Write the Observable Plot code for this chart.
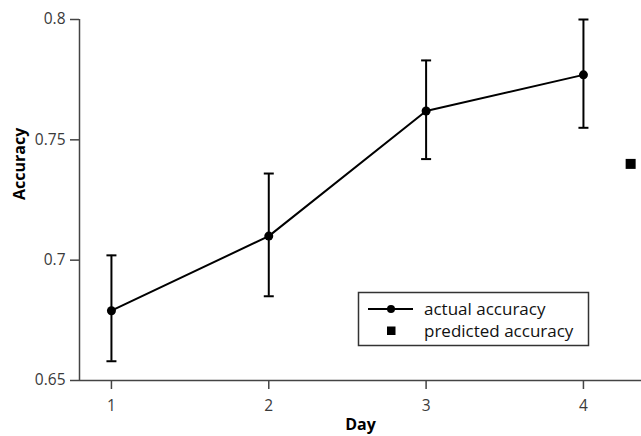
<!DOCTYPE html>
<html>
<head>
<meta charset="utf-8">
<script src="https://cdn.jsdelivr.net/npm/d3@7"></script>
<script src="https://cdn.jsdelivr.net/npm/@observablehq/plot@0.6"></script>
<style>
  html, body { margin: 0; padding: 0; background: #fff; }
  #chart { width: 641px; height: 436px; }
  #chart g[aria-label="y-axis tick label"] text,
  #chart g[aria-label="x-axis tick label"] text { font-size: 15.5px !important; }
</style>
</head>
<body>
<div id="chart"></div>
<script>
// ---- data ----
const days = [1, 2, 3, 4];
const meanAcc = [0.679, 0.710, 0.762, 0.777];
const lowerAcc = [0.658, 0.685, 0.742, 0.755];
const upperAcc = [0.702, 0.736, 0.783, 0.800];
const predDays = [4.3];
const predAcc = [0.74];
const yTicks = [0.65, 0.7, 0.75, 0.8];
const xTicks = [1, 2, 3, 4];
const legendLabels = ["actual accuracy", "predicted accuracy"];

const actual = days.map((d, i) => ({day: d, mean: meanAcc[i], lo: lowerAcc[i], hi: upperAcc[i]}));
const predicted = predDays.map((d, i) => ({day: d, acc: predAcc[i]}));

const xDomain = [0.797, 4.369];
const yDomain = [0.65, 0.8];

// horizontal cap symbol for error bars
const capSymbol = {
  draw(ctx, size) {
    const w = Math.sqrt(size / Math.PI);
    ctx.moveTo(-w, 0);
    ctx.lineTo(w, 0);
  }
};

const font = "'Open Sans', 'DejaVu Sans', sans-serif";

const svg = Plot.plot({
  width: 641,
  height: 436,
  marginLeft: 79,
  marginRight: 0,
  marginTop: 19,
  marginBottom: 56,
  style: {fontFamily: font, fontSize: "15px", color: "#3a3a3a", background: "#fff"},
  x: {domain: xDomain},
  y: {domain: yDomain},
  marks: [
    Plot.axisY({ticks: yTicks, tickSize: 9, tickPadding: 5, tickFormat: d => String(d), label: null, fontSize: 15.5, stroke: "#444", strokeWidth: 1.5}),
    Plot.axisX({ticks: xTicks, tickSize: 9, tickPadding: 10, tickFormat: d => String(d), label: null, fontSize: 15.5, stroke: "#444", strokeWidth: 1.5}),
    Plot.ruleX([xDomain[0]], {stroke: "#444", strokeWidth: 1.5}),
    Plot.ruleY([yDomain[0]], {stroke: "#444", strokeWidth: 1.5}),
    Plot.ruleX(actual, {x: "day", y1: "lo", y2: "hi", stroke: "black", strokeWidth: 2}),
    Plot.dot(actual, {x: "day", y: "lo", symbol: capSymbol, r: 5, stroke: "black", strokeWidth: 2, fill: "none"}),
    Plot.dot(actual, {x: "day", y: "hi", symbol: capSymbol, r: 5, stroke: "black", strokeWidth: 2, fill: "none"}),
    Plot.line(actual, {x: "day", y: "mean", stroke: "black", strokeWidth: 2}),
    Plot.dot(actual, {x: "day", y: "mean", r: 4.5, fill: "black", stroke: "none"}),
    Plot.dot(predicted, {x: "day", y: "acc", symbol: "square", r: 10 / Math.sqrt(Math.PI), fill: "black", stroke: "none"}),
    Plot.text(["Day"], {frameAnchor: "bottom", dy: 49, fontWeight: "bold", fontSize: 16, fill: "black"}),
    Plot.text(["Accuracy"], {frameAnchor: "left", dx: -60, rotate: -90, fontWeight: "bold", fontSize: 16, fill: "black"})
  ]
});

// legend inside the svg
const s = d3.select(svg);
const g = s.append("g").attr("font-family", font).attr("font-size", 17).attr("fill", "#111").attr("text-anchor", "start");
g.append("rect").attr("x", 358.5).attr("y", 292.5).attr("width", 230).attr("height", 53)
  .attr("fill", "white").attr("stroke", "#333").attr("stroke-width", 1.5);
g.append("line").attr("x1", 368).attr("x2", 413).attr("y1", 309).attr("y2", 309)
  .attr("stroke", "black").attr("stroke-width", 2);
g.append("circle").attr("cx", 391).attr("cy", 309).attr("r", 4).attr("fill", "black");
g.append("rect").attr("x", 387).attr("y", 326.5).attr("width", 8.5).attr("height", 8.5).attr("fill", "black");
g.append("text").attr("x", 424).attr("y", 309).attr("dy", "0.35em").attr("text-anchor", "start").text(legendLabels[0]);
g.append("text").attr("x", 424).attr("y", 331).attr("dy", "0.35em").attr("text-anchor", "start").text(legendLabels[1]);

document.getElementById("chart").appendChild(svg);
</script>
</body>
</html>
